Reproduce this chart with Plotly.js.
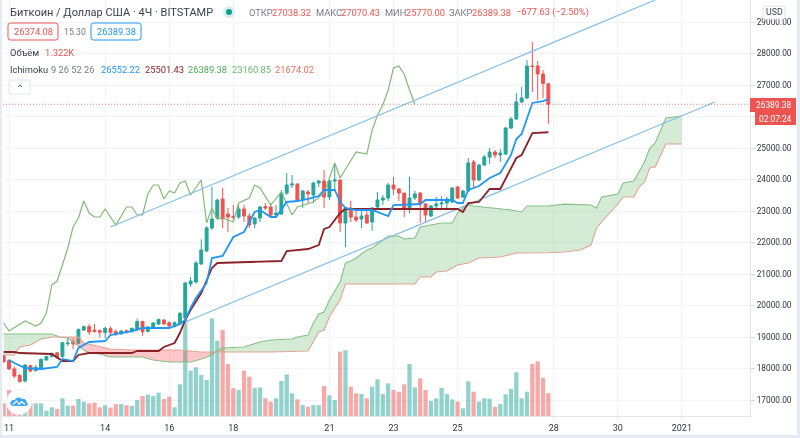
<!DOCTYPE html>
<html><head><meta charset="utf-8">
<script src="https://cdn.plot.ly/plotly-3.0.1.min.js"></script>
<style>html,body{margin:0;padding:0;background:#fff}#c{width:800px;height:438px;filter:blur(.3px)}</style></head>
<body><div id="c"></div>
<script>
// Candles, one row per 4h bar: open, high, low, close
const opens=[18400,18250,17985,17780,17600,18090,17940,17985,18270,18380,18500,18375,18790,18850,18800,19220,19330,19220,19200,19140,19265,19170,19105,19200,19170,19225,19490,19180,19297,19410,19540,19455,19330,19415,
19600,20683,20745,21318,21731,22461,22778,23382,22905,22830,22810,23064,22842,22588,22778,23140,23128,22874,22905,23572,23826,23858,23350,23604,23509,23890,23953,23445,23953,23985,22620,23096,22810,22747,22874,22651,23128,23350,23414,23826,23699,23572,23064,23414,23572,23223,22842,23160,23223,23255,23287,23763,23445,23636,24557,23985,24461,24715,24874,24779,24810,25636,25922,26462,26589,27605,27605,27350,27038];
const highs=[18450,18300,18060,17830,18140,18110,18110,18320,18400,18510,18530,18850,19000,18960,19270,19360,19410,19410,19240,19330,19330,19240,19220,19235,19300,19590,19520,19350,19470,19580,19560,19490,19490,19800,
20750,20905,21420,22100,22525,23763,23382,23731,23096,23191,23191,23191,22937,22810,23160,23255,23255,23191,23668,24207,24144,23880,23668,23668,23922,23985,24302,23985,24525,23985,23128,23318,23032,23032,23032,23128,23604,23509,23890,24080,23731,23572,24080,23636,23604,23255,23191,23445,23477,23445,23763,23795,23668,24683,24620,24493,24779,25001,24938,24969,25668,25985,26747,26938,27795,28367,27763,27478,27070];
const lows=[18180,17950,17690,17550,17560,17880,17900,17960,18250,18350,18310,18350,18715,18610,18780,19190,19060,19140,18980,18960,19030,19030,19060,19115,19140,19180,19040,19140,19260,19380,19390,19310,19310,19380,
19560,20590,20700,21290,21700,22400,22747,22461,22334,22651,22747,22651,22461,22461,22651,23032,22842,22778,22874,23509,23731,23287,23096,23255,23255,23763,23096,23350,23668,22334,21858,22651,22651,22461,22588,22366,23096,23191,23318,23509,23318,22810,22937,23350,22620,22651,22810,23032,23032,23096,23255,23382,23414,23604,23763,23953,24430,24493,24683,24557,24779,25604,25890,26430,26557,26779,26525,26588,25770];
const closes=[18220,17985,17760,17590,18110,17920,18030,18290,18380,18480,18350,18820,18810,18780,19240,19330,19160,19180,19150,19275,19150,19105,19190,19160,19275,19490,19170,19320,19445,19560,19415,19350,19455,19750,
20715,20778,21350,21762,22461,22747,23350,22747,22810,22795,23064,22842,22556,22778,23128,23096,22874,22937,23572,23826,23858,23350,23636,23541,23890,23953,23445,23953,23985,22620,23096,22810,22715,22842,22620,23096,23350,23414,23826,23699,23572,23064,23414,23541,23223,22874,23160,23223,23255,23382,23731,23414,23636,24525,23985,24461,24715,24874,24779,24842,25636,25922,26462,26589,27605,27590,27350,27050,26389.38];
// Volume in thousands
const volumes=[.73,1.5,1.31,.92,.5,.73,.73,.73,.31,.5,.4,1.02,.6,.6,.98,.83,.73,.77,.5,.62,.48,.69,.69,.62,.58,.92,1.15,1.23,1.15,1.35,.98,1.12,.5,1.83,
5.54,2.62,2.81,2.37,2.08,5.63,4.35,4.96,3,1.6,1.5,2.62,2.27,1.63,1.65,1.02,.83,1.02,2.02,2.4,1.31,.96,.63,.54,.63,.62,1.73,1.19,.92,3.71,3.79,1.69,1.31,1.27,1.02,1.69,2.12,1.27,1.88,1.5,1.4,1.83,3,1.65,2.17,1.5,.87,1.02,1.62,1.27,.96,.83,.44,2,1.4,.83,1.02,1,.54,.69,1.25,1.56,2.52,1.02,1.4,3,3.15,2.21,1.322];
// Ichimoku lines: bar index and price
const tenkanBars=[1,2,4,7,10,11,13,14,16,19,20,22,24,26,31,33,34,35,36,38,39,41,43,45,47,48,50,51,53,55,57,59,60,62,63,64,66,69,72,73,78,79,84,85,86,87,89,91,93,95,96,97,99,101,102];
const tenkanPrices=[18270,18175,18016,17984,18048,18302,18238,18651,18842,18873,19063,19127,19190,19286,19286,19413,19540,19921,20239,20715,21507,21572,22175,22334,22969,23032,22810,22810,23287,23318,23382,23477,23668,23668,23287,23096,23032,23032,22842,23191,23223,23350,23350,23255,23255,23668,23795,24049,24207,24779,25287,25446,26430,26493,26552.22];
const kijunBars=[0,2,3,9,11,13,14,16,24,25,29,30,32,33,34,35,37,38,39,40,52,53,57,59,60,61,63,64,85,86,87,89,91,93,96,97,99,102];
const kijunPrices=[18524,18524,18492,18461,18238,18238,18429,18492,18492,18556,18556,18683,18810,19127,19540,19858,20397,20810,21191,21350,21413,21731,21794,21921,22429,22493,22937,23064,23064,22969,23255,23287,23699,23699,24683,24779,25477,25501.43];
const chikouBars=[0,1,4,6,7,8,9,10,11,12,13,14,15,16,17,18,19,21,23,24,25,26,27,28,29,30,31,32,33,34,35,37,38,39,40,41,43,44,46,47,48,50,52,54,55,58,60,62,63,65,66,68,69,70,71,72,73,74,75,76,77];
const chikouPrices=[19445,19191,19508,19350,19445,19762,20651,20778,21286,21826,22493,22779,23318,22937,22810,22810,23064,22556,23128,23128,22874,22874,23541,23826,23826,23382,23636,23572,23890,23953,23509,23985,22620,23096,22747,22778,22651,23255,23414,23826,23731,23191,23604,22874,23128,23287,23572,24525,24048,24620,24874,24810,25572,26049,26366,26842,27541,27605,27350,26842,26389.38];
const spanABars=[0,9,10.5,12,15,16,18,20,26,28,31,35,37,39,39.6,41,45,48,50,54,55,57,58,59,60,61,63,64,65,66,68,69,72,74,75,77,78,82,84,85,86,87,88,93,95,97,98,102,105,110,111,112,115,116,118,120,121,122,124,127];
const spanAPrices=[19095,19095,19000,18968,18587,18492,18461,18365,18365,18270,18207,18207,18302,18429,18524,18651,18683,18842,18905,18937,19000,19063,19445,19730,19794,20175,20747,21350,21413,21508,21762,21826,22207,22207,22112,22144,22493,22620,22620,22937,23096,23191,23160,23064,23032,22969,23160,23160.85,23220,23190,23096,23445,23540,23890,23953,24557,25001,25160,25954,26017];
const spanBBars=[0,2,3,5,7,9,10.5,14,15,20,24,33,37,39.6,50,57,58,59,60,61,62,63,64,77,78,80,81,83,85,87,89,93,96,98,102,105,108,110,111,115,116,118,119,120,121,122,124,127];
const spanBPrices=[18429,18429,18683,18746,18937,19000,19000,19000,18810,18619,18587,18587,18524,18524,18524,18556,18842,19159,19223,19635,19921,20175,20683,20683,20905,20905,21064,21096,21286,21350,21508,21540,21668,21668,21674.02,21700,21762,21921,22461,23223,23445,23445,23763,23922,24366,24398,25128,25128];
const crossBars=[10.5,39.6];
// Drawn channel lines
const upperBars=[20,122], upperPrices=[22493,29700];
const lowerBars=[34,133.2], lowerPrices=[19476,26461];
const lastPrice=26389.38;
// Axis labels
const dayBars=[1,19,31,43,61,73,85,103,115,127];
const dayLabels=['11','14','16','18','21','23','25','28','30','2021'];
const priceTicks=[17000,18000,19000,20000,21000,22000,23000,24000,25000,26000,27000,28000,29000];
const hiddenTick=26000; // sits behind the countdown tag

const GREEN='#26a69a',RED='#ef5350',BLUE='#2196f3',MAROON='#8b2229';
const W=800,H=438,L=3,R=750,T=0,B=416;
const px=x=>(x-L)/(R-L), py=y=>(B-y)/(B-T);
const bars=opens.map((_,i)=>i);

function slice(xs,ys,a,b){const X=[],Y=[];xs.forEach((x,i)=>{if(x>=a&&x<=b){X.push(x);Y.push(ys[i]);}});return [X,Y];}
function cloud(a,b,color){
  const [ax,ay]=slice(spanABars,spanAPrices,a,b),[bx,by]=slice(spanBBars,spanBPrices,a,b);
  return {type:'scatter',mode:'lines',x:ax.concat(bx.slice().reverse()),y:ay.concat(by.slice().reverse()),fill:'toself',fillcolor:color,line:{width:0},yaxis:'y2',hoverinfo:'skip'};
}
function line(x,y,color,width){return {type:'scatter',mode:'lines',x,y,line:{color,width,shape:'linear'},yaxis:'y2',hoverinfo:'skip'};}

const traces=[
 {type:'bar',x:bars,y:volumes,width:.8,marker:{color:bars.map(i=>closes[i]>=opens[i]?'rgba(38,166,154,.5)':'rgba(239,83,80,.5)'),line:{width:0}},yaxis:'y',hoverinfo:'skip'},
 cloud(-1,crossBars[0],'rgba(76,175,80,.24)'),
 cloud(crossBars[0],crossBars[1],'rgba(255,82,82,.32)'),
 cloud(crossBars[1],200,'rgba(76,175,80,.24)'),
 line(spanABars,spanAPrices,'#86c086',1.1),
 line(spanBBars,spanBPrices,'#e2a493',1.1),
 line(chikouBars,chikouPrices,'#84b878',1.2),
 line(upperBars,upperPrices,'#85bfe6',1.2),
 line(lowerBars,lowerPrices,'#85bfe6',1.2),
 line(kijunBars,kijunPrices,MAROON,1.8),
 {type:'candlestick',x:bars,open:opens,high:highs,low:lows,close:closes,yaxis:'y2',whiskerwidth:0,
  increasing:{line:{color:GREEN,width:1},fillcolor:GREEN},decreasing:{line:{color:RED,width:1},fillcolor:RED},hoverinfo:'skip'},
 line(tenkanBars,tenkanPrices,BLUE,1.8)
];

function round(x0,y0,x1,y1,r,stroke,fill){
  const X=v=>px(v),Y=v=>py(v);
  const p=`M${X(x0+r)} ${Y(y0)}L${X(x1-r)} ${Y(y0)}Q${X(x1)} ${Y(y0)} ${X(x1)} ${Y(y0+r)}L${X(x1)} ${Y(y1-r)}Q${X(x1)} ${Y(y1)} ${X(x1-r)} ${Y(y1)}L${X(x0+r)} ${Y(y1)}Q${X(x0)} ${Y(y1)} ${X(x0)} ${Y(y1-r)}L${X(x0)} ${Y(y0+r)}Q${X(x0)} ${Y(y0)} ${X(x0+r)} ${Y(y0)}Z`;
  return {type:'path',xref:'paper',yref:'paper',path:p,line:{color:stroke,width:1},fillcolor:fill};
}
function rect(x0,y0,x1,y1,fill){return {type:'rect',xref:'paper',yref:'paper',x0:px(x0),x1:px(x1),y0:py(y1),y1:py(y0),line:{width:0},fillcolor:fill};}
function circle(cx,cy,r,fill){return {type:'circle',xref:'paper',yref:'paper',x0:px(cx-r),x1:px(cx+r),y0:py(cy+r),y1:py(cy-r),line:{width:0},fillcolor:fill};}

const FRAME='#e6eaf5';
const shapes=[
 {type:'line',xref:'paper',yref:'y2',x0:0,x1:1,y0:lastPrice,y1:lastPrice,line:{color:'rgba(239,83,80,.75)',width:1,dash:'1px,2px'}},
 rect(0,0,2,H,FRAME),rect(797,0,W,H,FRAME),rect(0,435,W,H,FRAME),
 round(8,23,58,40,2.5,'#ef5350','#fff'),
 round(91,23,141,40,2.5,'#2196f3','#fff'),
 round(9,80,30,94,2,'#e0e3eb','#fff'),
 round(763,6,785,19,2,'#e0e3eb','#fff'),
 circle(229,12,6,'#d7efec'),circle(229,12,3,'#0f9d8c'),
 rect(750,98,796,112,RED),rect(755,112,796,125,RED)
];

const F='Roboto, sans-serif';
function t(x,y,text,color,size,anchor){return {xref:'paper',yref:'paper',x:px(x),y:py(y),text,showarrow:false,xanchor:anchor||'left',yanchor:'middle',font:{family:F,size:size||9.3,color},borderpad:0,align:'left'};}
const DARK='#3a3e4a',GRAY='#787b86';
const annotations=[
 t(9,12,'Биткоин / Доллар США · 4Ч · BITSTAMP',DARK,11),
 t(248,12,'ОТКР',GRAY),t(271,12,'27038.32',RED),
 t(315,12,'МАКС',GRAY),t(340,12,'27070.43',RED),
 t(384,12,'МИН',GRAY),t(405,12,'25770.00',RED),
 t(448,12,'ЗАКР',GRAY),t(471,12,'26389.38',RED),t(515,12,'−677.63 (−2.50%)',RED),
 t(33,32,'26374.08',RED,9.3,'center'),t(75,32,'15.30',GRAY,8.7,'center'),t(116,32,'26389.38',BLUE,9.3,'center'),
 t(9,52,'Объём',DARK,9.3),t(44,52,'1.322K',RED,9.3),
 t(9,70,'Ichimoku',DARK,9.3),t(50,70,'9 26 52 26',GRAY,9.3),
 t(100,70,'26552.22',BLUE),t(144,70,'25501.43',MAROON),t(187,70,'26389.38','#4caf50'),t(231,70,'23160.85','#66bb6a'),t(274,70,'21674.02','#ef6c5a'),
 t(19.5,88,'⌃','#50535e',10,'center'),
 t(774,12,'USD','#3a3e4a',8.8,'center'),
 t(773,105,'26389.38','#fff',8.4,'center'),t(775.5,118.5,'02:07:24','#fff',8.4,'center')
];

const logo='data:image/svg+xml;utf8,'+encodeURIComponent(`<svg xmlns="http://www.w3.org/2000/svg" viewBox="0 0 60 60"><circle cx="30" cy="30" r="29" fill="#fff" stroke="#eef0f5" stroke-width="2"/><path d="M12 38c-6-8 3-15 8-12 2-7 12-9 16-3 5-2 12 1 12 8 4 2 3 8-2 8H17" fill="#3ea6f2"/><path d="M16 36l8-8 7 7 5-6 8 7" fill="none" stroke="#fff" stroke-width="3"/></svg>`);

const layout={
 width:W,height:H,margin:{l:L,r:W-R,t:T,b:H-B,pad:0},paper_bgcolor:'#fff',plot_bgcolor:'#fff',showlegend:false,font:{family:F},
 boxgap:.22,barmode:'overlay',
 xaxis:{range:[-0.13,139.76],tickmode:'array',tickvals:dayBars,ticktext:dayLabels,showgrid:true,gridcolor:'#f1f3f8',gridwidth:1,zeroline:false,showline:true,linecolor:'#e0e3eb',ticks:'outside',ticklen:3,tickcolor:'#e6e8ee',tickfont:{family:F,size:9,color:'#2f333e'},rangeslider:{visible:false},fixedrange:true},
 yaxis:{range:[0,24],visible:false,fixedrange:true,showgrid:false,zeroline:false},
 yaxis2:{overlaying:'y',side:'right',range:[16492,29700],tickmode:'array',tickvals:priceTicks,ticktext:priceTicks.map(v=>v===hiddenTick?'':v.toFixed(2)),showgrid:true,gridcolor:'#f1f3f8',gridwidth:1,zeroline:false,showline:true,linecolor:'#e0e3eb',ticks:'outside',ticklen:4,tickcolor:'#d5d8e0',tickfont:{family:F,size:8.3,color:'#2f333e'},fixedrange:true},
 shapes,annotations,
 images:[{source:logo,xref:'paper',yref:'paper',x:px(6),y:py(389),sizex:26/(R-L),sizey:26/(B-T),sizing:'contain',xanchor:'left',yanchor:'top',layer:'above'}]
};
Plotly.newPlot('c',traces,layout,{displayModeBar:false,staticPlot:true});
</script></body></html>
